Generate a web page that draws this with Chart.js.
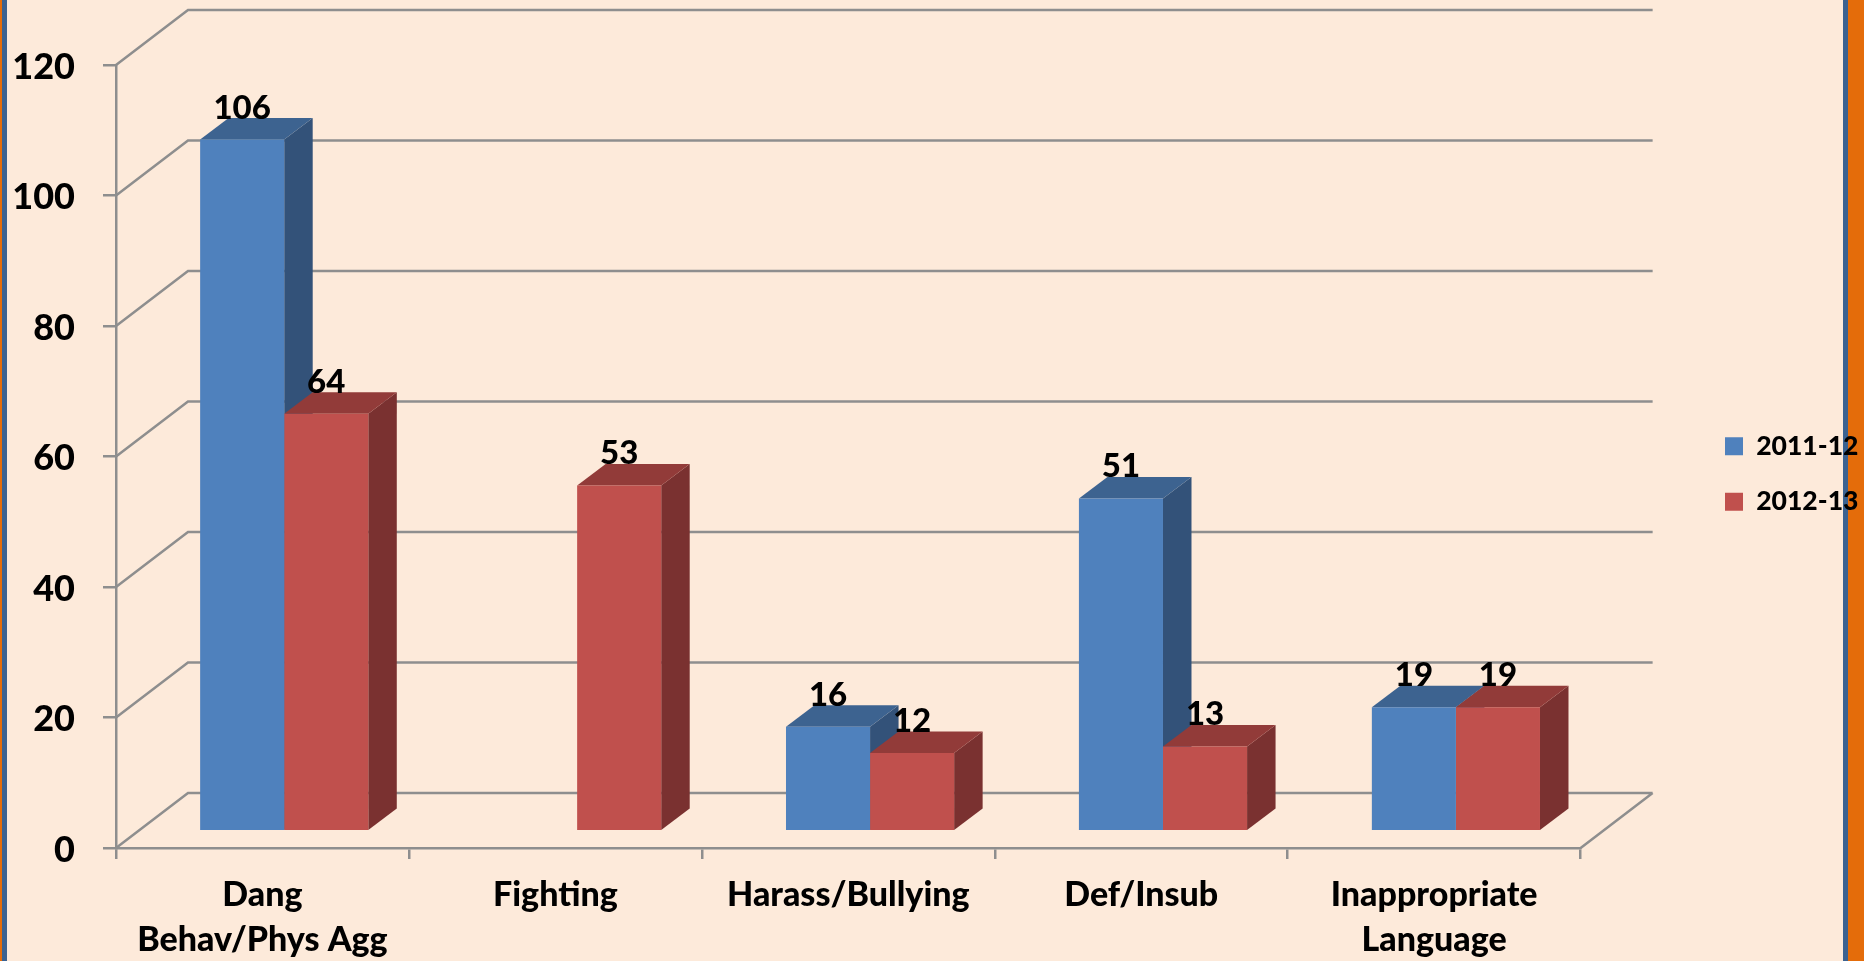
<!DOCTYPE html>
<html>
<head>
<meta charset="utf-8">
<title>Incidents by category</title>
<script src="https://cdn.jsdelivr.net/npm/chart.js@4"></script>
<style>
    html, body { margin: 0; padding: 0; background: #FDEADA; overflow: hidden; }
    .strip { position: absolute; top: 0; height: 961px; }
    #wrap { position: absolute; left: 0; top: 0; width: 1864px; height: 961px; }
</style>
</head>
<body>
<div class="strip" style="left:0;width:2px;background:#E46C0A"></div>
<div class="strip" style="left:2px;width:5px;background:#3B6291"></div>
<div class="strip" style="left:1843px;width:5px;background:#3B6291"></div>
<div class="strip" style="left:1848px;width:16px;background:#E46C0A"></div>
<div id="wrap"><canvas id="incidentChart" width="1864" height="961"></canvas></div>
<script>
const categories = [['Dang', 'Behav/Phys Agg'], 'Fighting', 'Harass/Bullying', 'Def/Insub', ['Inappropriate', 'Language']];
const seriesNames = ['2011-12', '2012-13'];
const values2011 = [106, null, 16, 51, 19];
const values2012 = [64, 53, 12, 13, 19];

const FONT = 'Lato, sans-serif';
const GREY = '#8E8E8E';

// fake 3D depth, same idea as the Excel chart
const WALL_DX = 72, WALL_DY = 55;      // back wall offset
const BAR_DX = 28.5, BAR_DY = 21.5;    // bar depth
const SHIFT_X = (WALL_DX - BAR_DX) / 2; // bars sit mid way on the floor
const SHIFT_Y = (WALL_DY - BAR_DY) / 2;

const sideColors = ['#335279', '#7A3130'];
const topColors = ['#3D6390', '#923B39'];

function poly(ctx, pts, color) {
    ctx.fillStyle = color;
    ctx.beginPath();
    pts.forEach(function(p, i) { i ? ctx.lineTo(p[0], p[1]) : ctx.moveTo(p[0], p[1]); });
    ctx.closePath();
    ctx.fill();
}

const walls = {
    id: 'walls',
    beforeDatasetsDraw(chart) {
        const ctx = chart.ctx, y = chart.scales.y, a = chart.chartArea;
        ctx.save();
        ctx.strokeStyle = GREY;
        ctx.lineWidth = 2.5;
        ctx.beginPath();
        y.ticks.forEach(function(t) {
            const py = y.getPixelForValue(t.value);
            ctx.moveTo(a.left, py);
            ctx.lineTo(a.left + WALL_DX, py - WALL_DY);
            ctx.lineTo(a.right + WALL_DX, py - WALL_DY);
        });
        // right edge of the floor
        ctx.moveTo(a.right, a.bottom);
        ctx.lineTo(a.right + WALL_DX, a.bottom - WALL_DY);
        ctx.stroke();
        ctx.restore();

        // sides and tops, front faces are drawn by chart.js after this
        ctx.save();
        ctx.translate(SHIFT_X, -SHIFT_Y);
        chart.data.datasets.forEach(function(ds, d) {
            chart.getDatasetMeta(d).data.forEach(function(bar, i) {
                if (ds.data[i] === null) return;
                const p = bar.getProps(['x', 'y', 'base', 'width']);
                const l = p.x - p.width / 2, r = p.x + p.width / 2;
                poly(ctx, [[r, p.y], [r + BAR_DX, p.y - BAR_DY], [r + BAR_DX, p.base - BAR_DY], [r, p.base]], sideColors[d]);
                poly(ctx, [[l, p.y], [l + BAR_DX, p.y - BAR_DY], [r + BAR_DX, p.y - BAR_DY], [r, p.y]], topColors[d]);
            });
        });
        // translate stays on for the bars, undone in afterDatasetsDraw
    },
    afterDatasetsDraw(chart) {
        const ctx = chart.ctx;
        ctx.restore();
        // value labels
        ctx.save();
        ctx.fillStyle = '#000';
        ctx.font = '900 33px ' + FONT;
        ctx.textAlign = 'center';
        ctx.textBaseline = 'alphabetic';
        chart.data.datasets.forEach(function(ds, d) {
            chart.getDatasetMeta(d).data.forEach(function(bar, i) {
                if (ds.data[i] === null) return;
                const p = bar.getProps(['x', 'y']);
                ctx.fillText(ds.data[i], p.x + SHIFT_X, p.y - SHIFT_Y - 21);
            });
        });
        ctx.restore();
    },
    afterLayout(chart) {
        // put the legend back where it sits in the original
        const lg = chart.legend;
        lg.top -= 39;
        lg.bottom -= 39;
        lg.left = 1696;
        lg.right = 1864;
    }
};

new Chart(document.getElementById('incidentChart'), {
    type: 'bar',
    data: {
        labels: categories,
        datasets: [
            { label: seriesNames[0], data: values2011, backgroundColor: '#4F81BD', borderWidth: 0 },
            { label: seriesNames[1], data: values2012, backgroundColor: '#C0504D', borderWidth: 0 }
        ]
    },
    options: {
        responsive: false,
        animation: false,
        layout: { padding: { top: 65, left: 0, right: 111, bottom: 0 } },
        datasets: { bar: { categoryPercentage: 0.574, barPercentage: 1 } },
        plugins: {
            tooltip: { enabled: false },
            legend: {
                position: 'right',
                labels: {
                    boxWidth: 18,
                    boxHeight: 18,
                    padding: 29,
                    color: '#000',
                    font: { family: FONT, weight: '900', size: 26.5 }
                }
            }
        },
        scales: {
            x: {
                offset: true,
                grid: { display: true, drawOnChartArea: false, color: GREY, tickLength: 11, lineWidth: 2.5, tickColor: GREY },
                border: { color: GREY, width: 2.5 },
                ticks: { color: '#000', padding: 14, maxRotation: 0, autoSkip: false, font: { family: FONT, weight: '900', size: 34, lineHeight: 1.32 } },
                afterFit(scale) { scale.height = 113; }
            },
            y: {
                min: 0,
                max: 120,
                grid: { display: true, drawOnChartArea: false, color: GREY, tickLength: 13, lineWidth: 2.5, tickColor: GREY },
                border: { color: GREY, width: 2.5 },
                ticks: { stepSize: 20, color: '#000', padding: 28, labelOffset: 2, font: { family: FONT, weight: '900', size: 36 } },
                afterFit(scale) { scale.width = 116; }
            }
        }
    },
    plugins: [walls]
});
</script>
</body>
</html>
